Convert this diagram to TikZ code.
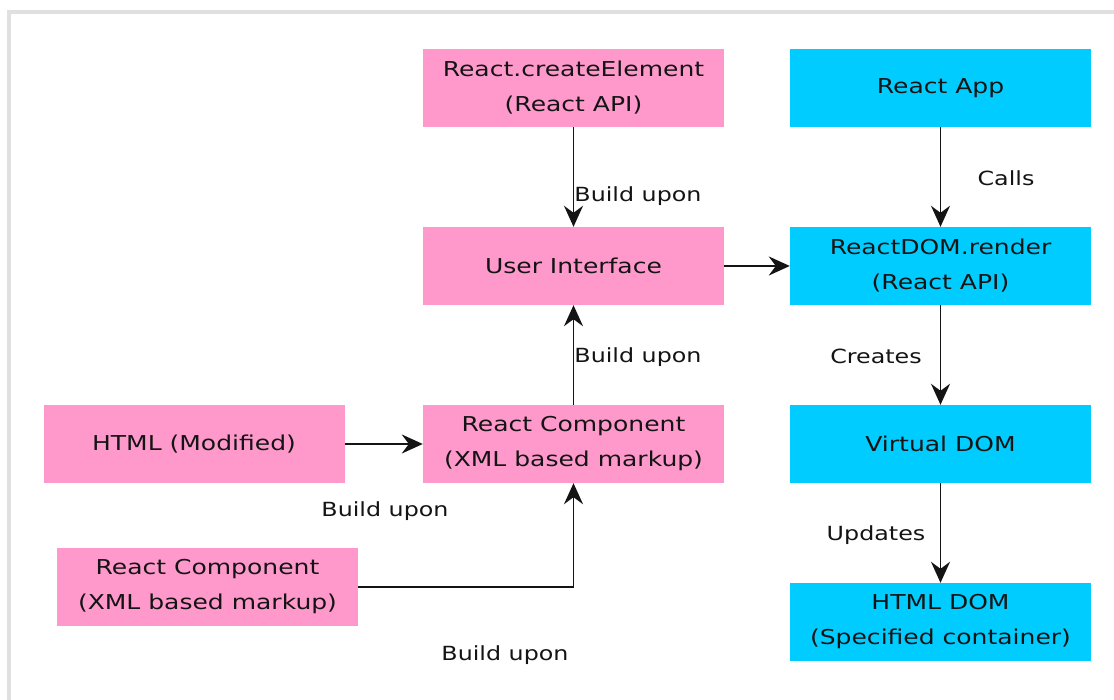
\documentclass[tikz,border=0pt]{standalone}
\usepackage{fontspec}
\setmainfont{DejaVu Sans}[FakeStretch=1.22]
\usetikzlibrary{arrows.meta}
\definecolor{pinkbox}{RGB}{255,153,204}
\definecolor{cyanbox}{RGB}{0,204,255}
\definecolor{frame}{RGB}{224,224,224}
\definecolor{ink}{RGB}{20,20,20}
\tikzset{
  box/.style={rectangle, minimum width=301pt, minimum height=78pt, inner sep=0pt,
    align=center, text=ink, font=\fontsize{20.5}{35}\selectfont},
  pbox/.style={box, fill=pinkbox},
  cbox/.style={box, fill=cyanbox},
  lbl/.style={text=ink, inner sep=0pt, font=\fontsize{19.5}{23}\selectfont},
  conn/.style={draw=ink, line width=1.9pt, -{Stealth[length=21pt,width=19pt,inset=7pt]}}
}
\begin{document}
\begin{tikzpicture}[x=1pt,y=-1pt]
\useasboundingbox (0,0) rectangle (1114,700);
\fill[white] (0,0) rectangle (1114,700);
\fill[frame] (7,10) rectangle (1114,14);
\fill[frame] (7,10) rectangle (11,700);

\node[pbox] (ce) at (573.5,88) {React.createElement\\(React API)};
\node[pbox] (ui) at (573.5,266) {User Interface};
\node[cbox] (app) at (940.5,88) {React App};
\node[cbox] (rdom) at (940.5,266) {ReactDOM.render\\(React API)};
\node[pbox] (html) at (194,444) {HTML (Modified)};
\node[pbox] (rc) at (573.5,444) {React Component\\(XML based markup)};
\node[cbox] (vdom) at (940.5,444) {Virtual DOM};
\node[pbox] (rc2) at (207.5,587) {React Component\\(XML based markup)};
\node[cbox] (hdom) at (940.5,622) {HTML DOM\\(Specified container)};

\node[lbl] (l1) at (638,196) {Build upon};
\node[lbl] (l2) at (1006,178) {Calls};
\node[lbl] (l3) at (638,357) {Build upon};
\node[lbl] (l4) at (876,356) {Creates};
\node[lbl] (l5) at (385,511) {Build upon};
\node[lbl] (l6) at (876,535) {Updates};
\node[lbl] (l7) at (505,655) {Build upon};

\draw[conn] (ce) -- (ui);
\draw[conn] (rc) -- (ui);
\draw[conn] (ui) -- (rdom);
\draw[conn] (app) -- (rdom);
\draw[conn] (rdom) -- (vdom);
\draw[conn] (vdom) -- (hdom);
\draw[conn] (html) -- (rc);
\draw[conn] (rc2.east) -- (rc2.east -| rc.south) -- (rc.south);
\end{tikzpicture}
\end{document}
